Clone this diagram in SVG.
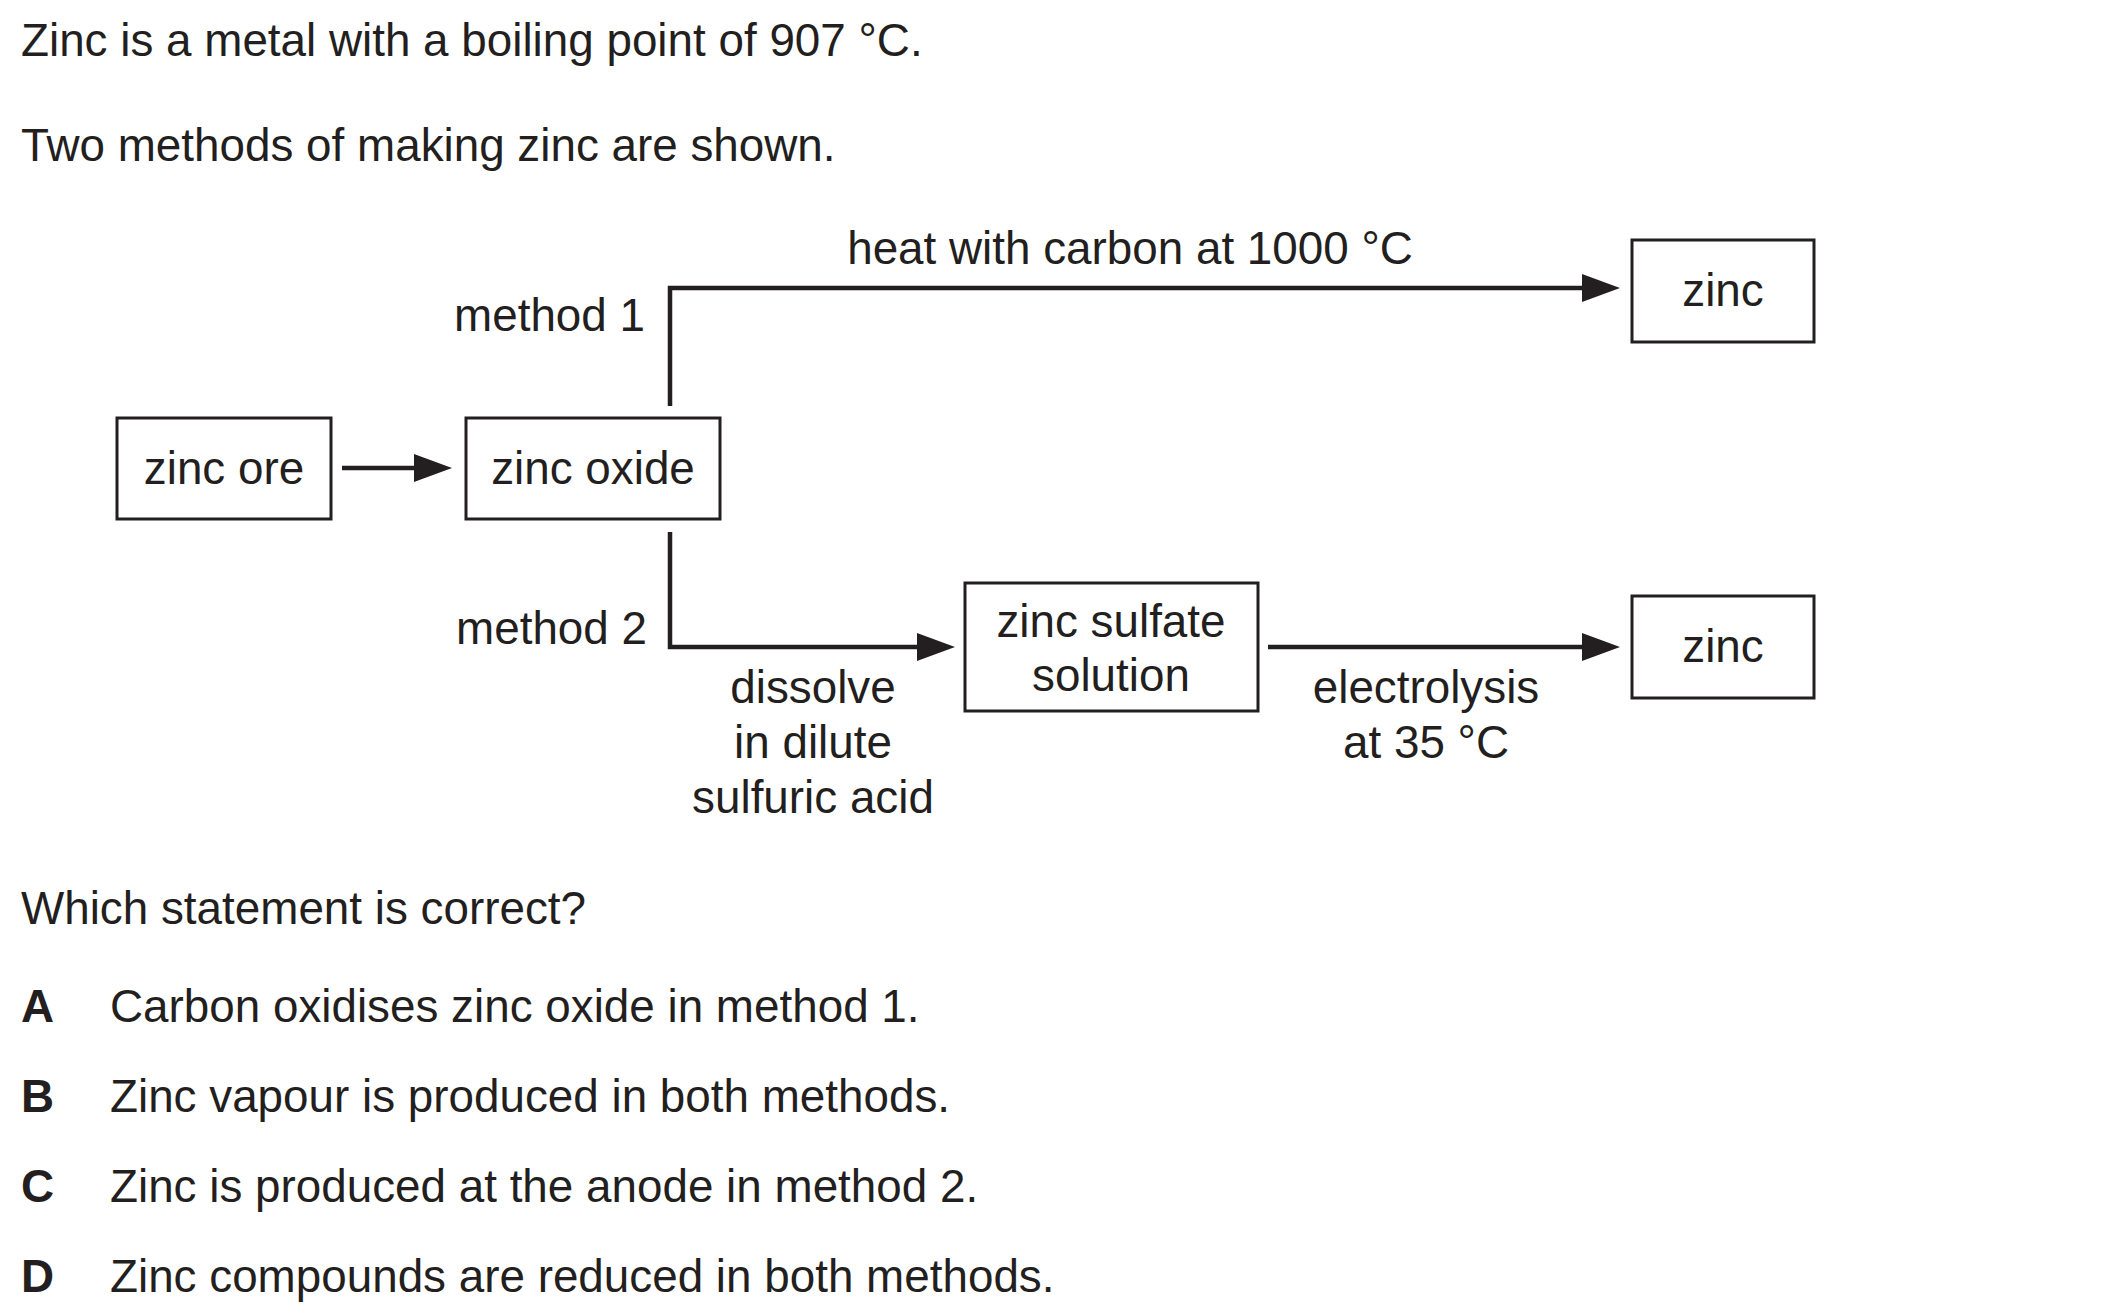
<svg xmlns="http://www.w3.org/2000/svg" width="2101" height="1313" viewBox="0 0 2101 1313">
<style>
text{font-family:"Liberation Sans",Arial,sans-serif;font-size:45.8px;fill:#231f20}
.c{text-anchor:middle}
.e{text-anchor:end}
.b{font-weight:bold}
.box{fill:none;stroke:#231f20;stroke-width:3}
.ln{fill:none;stroke:#231f20;stroke-width:4.5}
</style>
<defs>
<marker id="ah" markerUnits="userSpaceOnUse" markerWidth="40" markerHeight="30" refX="28" refY="14" orient="auto">
<path d="M0,0 L38,14 L0,28 z" fill="#231f20"/>
</marker>
</defs>
<rect width="2101" height="1313" fill="#fff"/>
<text x="21" y="56">Zinc is a metal with a boiling point of 907 °C.</text>
<text x="21" y="161">Two methods of making zinc are shown.</text>

<g id="connectors">
<line class="ln" x1="342" y1="468" x2="442" y2="468" marker-end="url(#ah)"/>
<polyline class="ln" points="670,406 670,288 1610,288" marker-end="url(#ah)"/>
<polyline class="ln" points="670,532 670,647 945,647" marker-end="url(#ah)"/>
<line class="ln" x1="1268" y1="647" x2="1610" y2="647" marker-end="url(#ah)"/>
<text class="c" x="1130" y="264">heat with carbon at 1000 °C</text>
<text class="e" x="645" y="331">method 1</text>
<text class="e" x="647" y="644">method 2</text>
<text class="c" x="813" y="703">dissolve</text>
<text class="c" x="813" y="758">in dilute</text>
<text class="c" x="813" y="813">sulfuric acid</text>
<text class="c" x="1426" y="703">electrolysis</text>
<text class="c" x="1426" y="758">at 35 °C</text>
</g>

<g id="zinc-ore">
<rect class="box" x="117" y="418" width="214" height="101"/>
<text class="c" x="224" y="484">zinc ore</text>
</g>
<g id="zinc-oxide">
<rect class="box" x="466" y="418" width="254" height="101"/>
<text class="c" x="593" y="484">zinc oxide</text>
</g>
<g id="zinc-1">
<rect class="box" x="1632" y="240" width="182" height="102"/>
<text class="c" x="1723" y="306">zinc</text>
</g>
<g id="zinc-sulfate">
<rect class="box" x="965" y="583" width="293" height="128"/>
<text class="c" x="1111" y="637">zinc sulfate</text>
<text class="c" x="1111" y="691">solution</text>
</g>
<g id="zinc-2">
<rect class="box" x="1632" y="596" width="182" height="102"/>
<text class="c" x="1723" y="662">zinc</text>
</g>

<text x="21" y="924">Which statement is correct?</text>
<text class="b" x="21" y="1022">A</text>
<text x="110" y="1022">Carbon oxidises zinc oxide in method 1.</text>
<text class="b" x="21" y="1112">B</text>
<text x="110" y="1112">Zinc vapour is produced in both methods.</text>
<text class="b" x="21" y="1202">C</text>
<text x="110" y="1202">Zinc is produced at the anode in method 2.</text>
<text class="b" x="21" y="1292">D</text>
<text x="110" y="1292">Zinc compounds are reduced in both methods.</text>
</svg>
